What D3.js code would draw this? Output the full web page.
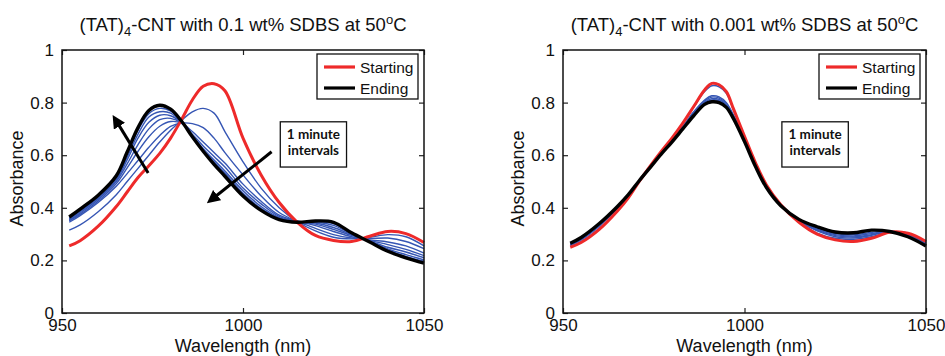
<!DOCTYPE html>
<html>
<head>
<meta charset="utf-8">
<script src="https://cdn.jsdelivr.net/npm/d3@7"></script>
<style>
  body { margin: 0; background: #fff; }
  svg { display: block; }
</style>
</head>
<body>
<div id="chart"></div>
<script>
// wavelengths (nm) for each panel
const wlA = [952, 955, 960, 965, 968, 971, 974, 977, 980, 983, 986, 989, 992, 995, 1000, 1005, 1010, 1015, 1020, 1025, 1030, 1035, 1040, 1045, 1050];
const wlB = [952, 955, 960, 965, 968, 971, 974, 977, 980, 983, 986, 989, 991, 993, 995, 997, 1000, 1003, 1006, 1010, 1015, 1020, 1025, 1030, 1035, 1040, 1045, 1050];

// panel A: 0.1 wt% SDBS
const startA = [.255, .275, .330, .405, .460, .515, .560, .607, .665, .735, .810, .862, .872, .845, .665, .525, .420, .345, .295, .276, .272, .292, .310, .302, .268];
const endA   = [.365, .395, .448, .522, .612, .705, .770, .790, .775, .730, .670, .615, .565, .520, .445, .390, .355, .345, .350, .345, .305, .270, .235, .210, .190];
const midA = [
  [.315, .335, .385, .450, .500, .550, .600, .650, .695, .732, .765, .778, .760, .690, .575, .475, .400, .347, .312, .288, .282, .288, .298, .290, .255],
  [.345, .370, .420, .482, .530, .580, .630, .675, .710, .722, .720, .705, .665, .610, .525, .445, .382, .348, .322, .298, .285, .283, .285, .272, .245],
  [.350, .375, .426, .492, .552, .615, .670, .710, .728, .722, .690, .650, .610, .570, .490, .425, .372, .350, .332, .310, .290, .278, .270, .255, .228],
  [.352, .380, .432, .500, .567, .640, .700, .735, .740, .722, .680, .635, .595, .555, .475, .415, .367, .348, .338, .318, .295, .276, .260, .242, .218],
  [.355, .385, .437, .506, .582, .665, .725, .752, .750, .724, .675, .625, .582, .540, .465, .405, .363, .347, .342, .325, .298, .274, .250, .232, .210],
  [.358, .388, .442, .511, .592, .680, .745, .765, .760, .725, .672, .620, .575, .532, .455, .398, .360, .346, .345, .333, .300, .272, .244, .222, .202],
  [.362, .392, .445, .516, .602, .695, .758, .778, .768, .728, .670, .617, .570, .525, .450, .393, .357, .345, .348, .340, .302, .271, .240, .215, .196]
];

// panel B: 0.001 wt% SDBS
const startB = [.250, .268, .318, .388, .438, .500, .558, .613, .665, .722, .785, .848, .873, .868, .842, .775, .672, .572, .488, .412, .345, .300, .278, .272, .284, .307, .303, .272];
const endB   = [.265, .287, .340, .405, .450, .503, .553, .603, .650, .700, .750, .793, .803, .800, .782, .738, .652, .558, .478, .408, .356, .328, .308, .305, .315, .310, .290, .255];
const midB = [
  [.254, .272, .322, .390, .440, .500, .557, .612, .664, .720, .782, .842, .864, .860, .835, .770, .668, .568, .485, .410, .347, .304, .284, .280, .290, .308, .304, .270],
  [.258, .278, .330, .397, .445, .500, .555, .607, .658, .710, .765, .810, .826, .822, .800, .752, .662, .565, .483, .410, .350, .312, .290, .285, .295, .310, .300, .268],
  [.260, .281, .333, .400, .447, .501, .554, .606, .655, .706, .760, .806, .821, .817, .796, .749, .659, .563, .482, .409, .351, .315, .294, .289, .298, .311, .298, .265],
  [.262, .283, .336, .402, .448, .502, .554, .605, .653, .703, .756, .801, .815, .812, .791, .745, .656, .561, .480, .409, .353, .319, .298, .293, .302, .311, .296, .262],
  [.263, .285, .338, .404, .449, .502, .553, .604, .651, .701, .753, .797, .810, .807, .787, .742, .654, .560, .479, .408, .354, .323, .302, .298, .306, .311, .293, .259]
];

const xTicks = [950, 1000, 1050];
const yTicks = [0, 0.2, 0.4, 0.6, 0.8, 1];
const yTickLabels = ["0", "0.2", "0.4", "0.6", "0.8", "1"];
const legendLabels = ["Starting", "Ending"];

const width = 945, height = 356;
const red = "#ee2a2a", black = "#000", blue = "#3656b4";

const svg = d3.select("#chart").append("svg")
  .attr("width", width)
  .attr("height", height)
  .style("font-family", "'Liberation Sans', Arial, sans-serif");

const panels = [
  {left: 62, right: 424, wl: wlA, start: startA, end: endA, mid: midA, conc: "0.1",
   arrows: [[973.8, 0.532, 965.5, 0.719], [1007.9, 0.613, 992.3, 0.442]]},
  {left: 563, right: 926, wl: wlB, start: startB, end: endB, mid: midB, conc: "0.001",
   arrows: []}
];

const plotTop = 50, plotBottom = 313;

svg.append("defs").append("marker")
  .attr("id", "head")
  .attr("viewBox", "0 0 10 10")
  .attr("refX", 2).attr("refY", 5)
  .attr("markerWidth", 4.4).attr("markerHeight", 4.4)
  .attr("orient", "auto")
  .append("path").attr("d", "M0,0 L10,5 L0,10 z").attr("fill", "#000");

panels.forEach(p => {
  const x = d3.scaleLinear().domain([950, 1050]).range([p.left, p.right]);
  const y = d3.scaleLinear().domain([0, 1]).range([plotBottom, plotTop]);

  const line = d3.line()
    .x((d, i) => x(p.wl[i]))
    .y(d => y(d))
    .curve(d3.curveCatmullRom.alpha(0.5));

  // axes, MATLAB style box with inward ticks
  svg.append("g").attr("transform", `translate(0,${plotBottom})`)
    .call(d3.axisBottom(x).tickValues(xTicks).tickSize(-5).tickPadding(6).tickFormat(d3.format("d")))
    .call(g => g.select(".domain").remove())
    .call(g => g.selectAll("text").attr("font-size", 17).attr("font-family", null).attr("fill", "#111"));
  svg.append("g").attr("transform", `translate(0,${plotTop})`)
    .call(d3.axisTop(x).tickValues(xTicks).tickSize(-5).tickFormat(""))
    .call(g => g.select(".domain").remove());
  svg.append("g").attr("transform", `translate(${p.left},0)`)
    .call(d3.axisLeft(y).tickValues(yTicks).tickSize(-5).tickPadding(8).tickFormat((d, i) => yTickLabels[i]))
    .call(g => g.select(".domain").remove())
    .call(g => g.selectAll("text").attr("font-size", 17).attr("font-family", null).attr("fill", "#111"));
  svg.append("g").attr("transform", `translate(${p.right},0)`)
    .call(d3.axisRight(y).tickValues(yTicks).tickSize(-5).tickFormat(""))
    .call(g => g.select(".domain").remove());
  svg.selectAll(".tick line").attr("stroke", "#222").attr("stroke-width", 1.2);

  const plot = svg.append("g");
  plot.selectAll(".mid").data(p.mid).enter().append("path")
    .attr("d", line)
    .attr("fill", "none").attr("stroke", blue).attr("stroke-width", 1.4);
  plot.append("path").attr("d", line(p.start))
    .attr("fill", "none").attr("stroke", red).attr("stroke-width", 3);
  plot.append("path").attr("d", line(p.end))
    .attr("fill", "none").attr("stroke", black).attr("stroke-width", 3.4);

  svg.append("rect")
    .attr("x", p.left).attr("y", plotTop)
    .attr("width", p.right - p.left).attr("height", plotBottom - plotTop)
    .attr("fill", "none").attr("stroke", "#111").attr("stroke-width", 1.5);

  // arrows
  p.arrows.forEach(a => {
    svg.append("line")
      .attr("x1", x(a[0])).attr("y1", y(a[1]))
      .attr("x2", x(a[2])).attr("y2", y(a[3]))
      .attr("stroke", "#000").attr("stroke-width", 3)
      .attr("marker-end", "url(#head)");
  });

  // "1 minute intervals" box
  const bx = x(1010.3), by = y(0.727), bw = x(1028.6) - x(1010.3), bh = y(0.555) - y(0.727);
  svg.append("rect").attr("x", bx).attr("y", by).attr("width", bw).attr("height", bh)
    .attr("fill", "#fff").attr("stroke", "#111").attr("stroke-width", 1.3);
  const note = svg.append("text")
    .attr("x", bx + bw / 2).attr("y", by + 17)
    .attr("text-anchor", "middle")
    .attr("font-family", "Lato, 'Open Sans', sans-serif")
    .attr("font-weight", "bold").attr("font-size", 13.5).attr("fill", "#111");
  note.append("tspan").attr("x", bx + bw / 2).text("1 minute");
  note.append("tspan").attr("x", bx + bw / 2).attr("dy", 16).text("intervals");

  // legend
  const lg = svg.append("g").attr("transform", `translate(${p.right - 107},${plotTop + 4})`);
  lg.append("rect").attr("width", 101).attr("height", 45)
    .attr("fill", "#fff").attr("stroke", "#111").attr("stroke-width", 1.3);
  [red, black].forEach((c, i) => {
    lg.append("line").attr("x1", 7).attr("x2", 38).attr("y1", 13 + i * 21).attr("y2", 13 + i * 21)
      .attr("stroke", c).attr("stroke-width", 3.2);
    lg.append("text").attr("x", 43).attr("y", 13 + i * 21).attr("dy", "0.36em")
      .attr("font-size", 15.5).attr("fill", "#111").text(legendLabels[i]);
  });

  // title
  const cx = (p.left + p.right) / 2;
  const t = svg.append("text").attr("x", cx).attr("y", 31)
    .attr("text-anchor", "middle").attr("font-size", 18.5).attr("fill", "#111");
  t.append("tspan").text("(TAT)");
  t.append("tspan").attr("font-size", 13).attr("dy", 5).text("4");
  t.append("tspan").attr("dy", -5).text(`-CNT with ${p.conc} wt% SDBS at 50`);
  t.append("tspan").attr("font-size", 13).attr("dy", -7).text("o");
  t.append("tspan").attr("dy", 7).text("C");

  // axis labels
  svg.append("text").attr("x", cx).attr("y", 352)
    .attr("text-anchor", "middle").attr("font-size", 18).attr("fill", "#111")
    .text("Wavelength (nm)");
  svg.append("text")
    .attr("transform", `translate(${p.left - 39},${(plotTop + plotBottom) / 2 - 3}) rotate(-90)`)
    .attr("text-anchor", "middle").attr("font-size", 18).attr("fill", "#111")
    .text("Absorbance");
});
</script>
</body>
</html>
